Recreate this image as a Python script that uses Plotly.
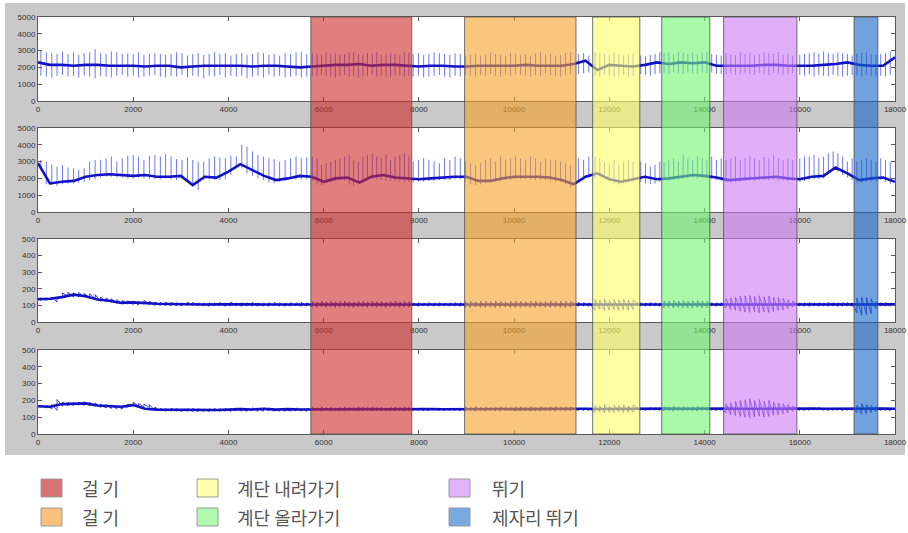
import plotly.graph_objects as go

# ---------------------------------------------------------------- data
# stride (heel-strike) sample positions shared by all four channels
beats = [
    60, 175, 290, 400, 515, 630, 745, 855, 970, 1085,
    1200, 1315, 1430, 1540, 1655, 1770, 1885, 2000, 2110, 2225,
    2340, 2455, 2570, 2680, 2795, 2910, 3025, 3140, 3250, 3365,
    3480, 3595, 3710, 3820, 3935, 4050, 4165, 4280, 4390, 4505,
    4620, 4735, 4850, 4960, 5075, 5190, 5305, 5420, 5530, 5645,
    5760, 5860, 5955, 6050, 6150, 6245, 6340, 6440, 6535, 6630,
    6730, 6825, 6920, 7020, 7115, 7210, 7310, 7405, 7500, 7600,
    7695, 7790,
    7880, 7990, 8100, 8210, 8320, 8430, 8540, 8650, 8760, 8870,
    8980, 9085, 9190, 9295, 9400, 9505, 9610, 9715, 9820, 9925,
    10030, 10135, 10240, 10345, 10450, 10555, 10660, 10765, 10870, 10975,
    11080, 11185,
    11350, 11460, 11570,
    11700, 11800, 11900, 12000, 12100, 12200, 12300, 12400, 12500,
    12660, 12760, 12860, 12960, 13060,
    13150, 13250, 13350, 13450, 13550, 13650, 13750, 13850, 13950, 14050,
    14150, 14250, 14350,
    14450, 14550, 14650, 14750, 14850, 14950, 15050, 15150, 15250, 15350,
    15450, 15550, 15650, 15750, 15850,
    16000, 16100, 16200, 16300, 16400, 16500, 16600, 16700, 16800, 16900,
    17000, 17100,
    17200, 17300, 17400, 17500, 17600,
    17700, 17800, 17900,
]

# channel 1: spike tops / bottoms per stride
ch1_hi = [
    3000, 2900, 2850, 2800, 2950, 2800, 2900, 2750, 2850, 2900,
    3100, 2850, 2800, 2950, 2900, 2800, 2850, 2800, 2900, 2750,
    2800, 2850, 2800, 2750, 2800, 2900, 2850, 2700, 2800, 2850,
    2750, 2800, 2900, 2800, 2850, 2700, 2800, 2850, 2750, 2800,
    2900, 2850, 2750, 2800, 2700, 2850, 2800, 2900, 2950, 2800,
    2850, 2800, 2750, 2900, 2800, 2850, 2750, 2800, 2900, 2950,
    2800, 2750, 2850, 2800, 2900, 2750, 2800, 2850, 2800, 2750,
    2900, 2850,
    2800, 2850, 2750, 2800, 2900, 2850, 2800, 2750, 2850, 2800,
    2700, 2750, 2800, 2700, 2750, 2900, 2800, 2750, 2700, 2850,
    2800, 2750, 2800, 2700, 2850, 2900, 2750, 2800, 2700, 2750,
    2850, 2900,
    2800, 2850, 2700,
    2900, 2850, 2800, 2750, 2900, 2800, 2700, 2750, 2800,
    2700, 2650, 2750, 2800, 2900,
    2850, 2900, 2800, 2950, 2850, 2800, 2900, 2800, 2850, 2900,
    2800, 2750, 2700,
    2850, 2800, 2750, 2900, 2800, 2850, 2750, 2800, 2900, 2850,
    2800, 2900, 2750, 2800, 2700,
    2750, 2800, 2850, 2900, 2800, 2950, 2850, 2800, 2900, 2850,
    2800, 2700,
    2800, 2850, 2900, 2800, 2750,
    2800, 2850, 2950,
]
ch1_lo = [
    1500, 1450, 1400, 1500, 1550, 1450, 1500, 1400, 1500, 1450,
    1350, 1500, 1450, 1400, 1500, 1550, 1450, 1500, 1400, 1450,
    1500, 1550, 1450, 1400, 1500, 1450, 1550, 1400, 1500, 1450,
    1350, 1500, 1450, 1550, 1400, 1500, 1450, 1500, 1350, 1450,
    1500, 1400, 1550, 1450, 1500, 1400, 1450, 1500, 1400, 1450,
    1500, 1450, 1550, 1500, 1450, 1400, 1500, 1550, 1450, 1500,
    1400, 1450, 1500, 1550, 1450, 1500, 1400, 1450, 1550, 1500,
    1450, 1500,
    1450, 1500, 1400, 1450, 1500, 1550, 1450, 1400, 1500, 1450,
    1550, 1500, 1450, 1550, 1500, 1600, 1500, 1450, 1550, 1500,
    1600, 1550, 1500, 1450, 1550, 1500, 1600, 1550, 1500, 1450,
    1550, 1600,
    1600, 1650, 1700,
    1500, 1450, 1550, 1500, 1400, 1500, 1550, 1450, 1500,
    1600, 1550, 1500, 1600, 1650,
    1650, 1600, 1700, 1650, 1600, 1700, 1650, 1600, 1700, 1650,
    1700, 1650, 1600,
    1600, 1650, 1550, 1600, 1650, 1600, 1550, 1650, 1600, 1550,
    1650, 1600, 1550, 1600, 1650,
    1550, 1500, 1600, 1450, 1550, 1500, 1450, 1550, 1500, 1450,
    1500, 1550,
    1500, 1450, 1550, 1500, 1450,
    1500, 1450, 1550,
]

# channel 2: spike tops / bottoms per stride
ch2_hi = [
    3100, 3000, 2800, 2700, 2800, 2650, 2600, 2500, 2600, 3000,
    3100, 3100, 3200, 3300, 3000, 3200, 3350, 3400, 3300, 3100,
    3350, 3400, 3300, 3450, 3300, 3150, 3100, 3250, 3100, 3000,
    3000, 3200, 3300, 3250, 3200, 3350, 3300, 4000, 3900, 3600,
    3400, 3300, 3200, 3150, 3000, 3100, 3200, 3300, 3200, 3250,
    3300, 3200, 2800, 2900, 3000, 3100, 3200, 3300, 3400, 3100,
    3000, 3300, 3400, 3500, 3300, 3200, 3400, 3100, 3300, 3400,
    3500, 3300,
    3000, 3100, 3200, 3100, 3000, 2900, 3200, 3100, 3300, 3200,
    3000, 2900, 2800, 2900, 3100, 3200, 3000, 3300, 3100, 3200,
    3300, 3200, 3100, 3300, 3200, 3000, 3200, 3100, 3100, 3000,
    2900, 2800,
    3200, 3100, 3300,
    3300, 3200, 3000, 2900, 3100, 2800, 3000, 3100, 3000,
    3000, 2900, 2700, 2800, 3000,
    3000, 3100, 3200, 3000, 3400, 3200, 3100, 3300, 3200, 3100,
    3300, 3100, 3200,
    3100, 3200, 3300, 3100, 3200, 3300, 3200, 3100, 3300, 3200,
    3400, 3200, 3100, 3200, 3100,
    3200, 3300, 3300, 3400, 3200, 3300, 3500, 3600, 3500, 3300,
    3000, 3200,
    3000, 3100, 3200, 3100, 3000,
    3200, 3100, 3000,
]
ch2_lo = [
    2700, 1650, 1600, 1550, 1650, 1700, 1700, 1750, 1800, 1900,
    1950, 2050, 2100, 2100, 2050, 2050, 2000, 2000, 2050, 2000,
    1950, 1950, 1950, 2000, 1950, 1900, 2000, 1900, 1650, 1300,
    1900, 1950, 1900, 1900, 1950, 2200, 2600, 2600, 2300, 2150,
    2000, 1900, 1750, 1700, 1800, 1850, 1950, 1950, 1950, 1950,
    1850, 1650, 1600, 1750, 1800, 1850, 1900, 1850, 1650, 1550,
    1800, 1900, 2000, 2000, 1950, 1900, 1850, 1850, 1850, 1800,
    1800, 1800,
    1750, 1800, 1800, 1850, 1850, 1900, 1900, 1900, 1950, 1950,
    1800, 1650, 1600, 1650, 1700, 1750, 1800, 1850, 1900, 1900,
    1950, 1950, 1950, 1900, 1900, 1900, 1900, 1850, 1800, 1800,
    1650, 1450,
    1800, 1900, 2050,
    2000, 2150, 2000, 1850, 1700, 1650, 1700, 1750, 1800,
    1800, 1700, 1650, 1700, 1800,
    1850, 1850, 1900, 1950, 1950, 2000, 2050, 2000, 2050, 2000,
    1950, 1900, 1850,
    1750, 1750, 1800, 1800, 1850, 1850, 1850, 1900, 1900, 1900,
    1900, 1850, 1850, 1850, 1850,
    1800, 1850, 1900, 1950, 1950, 2000, 2300, 2500, 2400, 2200,
    2050, 1900,
    1750, 1750, 1800, 1850, 1850,
    1900, 1800, 1650,
]

# channel 3: oscillation tops / bottoms per stride
ch3_hi = [
    145, 145, 150, 150, 175, 180, 175, 178, 172, 170,
    165, 150, 145, 140, 135, 130, 128, 125, 120, 130,
    125, 120, 118, 120, 118, 116, 115, 120, 118, 115,
    114, 116, 115, 118, 114, 120, 115, 116, 115, 118,
    115, 114, 116, 118, 115, 114, 116, 115, 118, 116,
    123, 120, 125, 122, 124, 121, 123, 125, 122, 120,
    124, 123, 121, 125, 122, 124, 120, 123, 125, 121,
    124, 122,
    115, 116, 114, 117, 115, 116, 114, 115, 117, 116,
    124, 126, 122, 125, 127, 123, 126, 124, 122, 125,
    127, 124, 123, 126, 125, 122, 124, 126, 123, 125,
    127, 124,
    118, 117, 116,
    135, 132, 138, 130, 136, 133, 137, 131, 134,
    116, 115, 117, 116, 115,
    128, 126, 130, 127, 129, 126, 128, 130, 127, 125,
    116, 115, 117,
    140, 145, 150, 155, 158, 160, 155, 158, 152, 156,
    150, 148, 142, 135, 125,
    115, 116, 117, 115, 116, 114, 117, 116, 115, 116,
    117, 115,
    145, 150, 148, 140, 125,
    116, 117, 115,
]
ch3_lo = [
    128, 130, 132, 120, 150, 155, 150, 152, 150, 145,
    140, 125, 122, 118, 112, 110, 108, 105, 102, 108,
    105, 100, 100, 100, 98, 98, 96, 100, 98, 97,
    96, 95, 97, 98, 95, 96, 97, 95, 96, 97,
    95, 96, 95, 97, 96, 95, 96, 97, 95, 96,
    90, 88, 92, 89, 91, 88, 90, 92, 89, 88,
    91, 90, 88, 92, 89, 91, 88, 90, 92, 89,
    91, 90,
    96, 95, 97, 96, 95, 96, 97, 95, 96, 95,
    88, 86, 90, 87, 85, 89, 86, 88, 90, 87,
    85, 88, 89, 86, 87, 90, 88, 86, 89, 87,
    85, 88,
    95, 96, 95,
    70, 75, 68, 72, 74, 69, 73, 71, 76,
    96, 95, 96, 97, 95,
    85, 88, 84, 87, 85, 86, 84, 88, 85, 87,
    96, 95, 96,
    85, 75, 70, 65, 60, 58, 62, 55, 60, 58,
    62, 68, 72, 80, 90,
    96, 95, 94, 96, 95, 97, 95, 96, 94, 95,
    96, 95,
    55, 40, 45, 50, 80,
    95, 96, 95,
]

# channel 4: oscillation tops / bottoms per stride
ch4_hi = [
    172, 170, 175, 205, 190, 188, 185, 190, 192, 188,
    185, 178, 175, 172, 168, 165, 178, 190, 182, 178,
    175, 160, 152, 150, 152, 150, 148, 150, 152, 150,
    148, 150, 152, 150, 150, 148, 155, 152, 150, 156,
    150, 152, 155, 150, 152, 150, 152, 155, 150, 152,
    158, 156, 160, 157, 159, 156, 158, 160, 157, 156,
    159, 158, 156, 160, 157, 159, 156, 158, 160, 157,
    159, 157,
    153, 152, 154, 153, 152, 154, 153, 152, 153, 154,
    160, 158, 162, 159, 161, 158, 160, 162, 159, 158,
    161, 160, 158, 162, 159, 161, 158, 160, 162, 159,
    161, 160,
    154, 153, 155,
    170, 168, 175, 166, 172, 169, 174, 167, 171,
    155, 154, 156, 155, 154,
    162, 160, 164, 161, 163, 160, 162, 164, 161, 160,
    154, 155, 153,
    180, 185, 195, 200, 205, 210, 200, 205, 195, 200,
    190, 185, 180, 175, 165,
    154, 153, 155, 156, 158, 155, 154, 153, 155, 154,
    153, 155,
    170, 180, 175, 170, 162,
    155, 154, 156,
]
ch4_lo = [
    158, 155, 150, 140, 165, 168, 170, 172, 170, 168,
    165, 158, 155, 152, 150, 148, 160, 170, 165, 160,
    158, 140, 138, 136, 138, 136, 134, 136, 135, 134,
    135, 134, 136, 135, 136, 135, 138, 136, 135, 138,
    135, 136, 138, 135, 136, 135, 136, 138, 136, 135,
    138, 140, 137, 139, 138, 140, 137, 138, 139, 140,
    137, 138, 140, 137, 139, 138, 140, 137, 138, 139,
    138, 140,
    140, 141, 140, 139, 141, 140, 139, 141, 140, 139,
    138, 140, 136, 139, 137, 140, 138, 136, 139, 140,
    137, 138, 140, 136, 139, 137, 140, 138, 136, 139,
    137, 138,
    140, 141, 140,
    128, 132, 125, 130, 127, 131, 126, 129, 130,
    142, 141, 143, 142, 141,
    138, 140, 136, 139, 137, 140, 138, 136, 139, 140,
    141, 140, 142,
    125, 115, 110, 105, 100, 95, 100, 105, 100, 105,
    110, 115, 120, 125, 135,
    141, 140, 142, 143, 144, 141, 140, 141, 142, 140,
    141, 142,
    128, 118, 122, 128, 135,
    140, 141, 139,
]

# slow baseline of each channel, one reading every 250 samples
t_base = list(range(0, 18001, 250))
ch1_base = [
    2300, 2150, 2150, 2100, 2150, 2150, 2100, 2100, 2100, 2050,
    2100, 2100, 2000, 2050, 2100, 2100, 2100, 2100, 2050, 2100,
    2100, 2050, 2000, 2050, 2100, 2150, 2150, 2200, 2100, 2150,
    2150, 2100, 2050, 2100, 2100, 2050, 2050, 2100, 2100, 2100,
    2100, 2150, 2100, 2100, 2100, 2200, 2400, 1850, 2150, 2100,
    2050, 2150, 2300, 2200, 2300, 2250, 2300, 2100, 2100, 2100,
    2100, 2150, 2150, 2100, 2100, 2100, 2150, 2200, 2300, 2150,
    2100, 2100, 2600,
]
ch2_base = [
    2900, 1700, 1800, 1850, 2100, 2200, 2250, 2200, 2150, 2200,
    2100, 2100, 2150, 1600, 2100, 2050, 2400, 2850, 2500, 2150,
    1900, 2000, 2150, 2100, 1800, 2000, 2050, 1750, 2100, 2200,
    2050, 2000, 1950, 2000, 2050, 2100, 2100, 1850, 1850, 2000,
    2100, 2100, 2100, 2050, 1900, 1650, 2100, 2300, 1950, 1800,
    1950, 2100, 1950, 2000, 2100, 2200, 2150, 2050, 1900, 1950,
    2000, 2050, 2100, 2000, 1950, 2100, 2150, 2650, 2300, 1900,
    2000, 2050, 1800,
]
ch3_base = [
    138, 140, 150, 165, 155, 135, 128, 115, 118, 112,
    110, 108, 106, 106, 105, 106, 107, 106, 106, 105,
    105, 106, 105, 106, 106, 105, 106, 105, 106, 105,
    106, 105, 106, 105, 106, 105, 105, 106, 105, 106,
    105, 106, 105, 106, 105, 106, 106, 105, 106, 105,
    106, 105, 106, 105, 106, 105, 106, 105, 106, 105,
    106, 105, 106, 105, 106, 105, 106, 105, 106, 105,
    106, 105, 106,
]
ch4_base = [
    165, 162, 178, 178, 182, 170, 168, 162, 172, 150,
    145, 144, 142, 143, 142, 143, 145, 148, 146, 150,
    145, 148, 146, 147, 148, 147, 148, 147, 148, 147,
    148, 147, 148, 148, 147, 148, 148, 149, 148, 149,
    148, 149, 148, 149, 150, 149, 150, 149, 150, 150,
    150, 151, 150, 151, 150, 151, 151, 150, 151, 150,
    151, 150, 151, 150, 151, 152, 150, 151, 150, 151,
    150, 151, 150,
]

# activity segments (sample index) and their labels
band_start = [5730, 8960, 11650, 13100, 14400, 17140]
band_end = [7850, 11300, 12640, 14110, 15940, 17640]
band_fill = ["rgba(205,40,40,0.6)", "rgba(245,160,40,0.6)", "rgba(255,255,100,0.6)",
             "rgba(110,245,110,0.6)", "rgba(205,120,245,0.6)", "rgba(20,100,200,0.6)"]
band_labels = ["걸 기", "걸 기", "계단 내려가기", "계단 올라가기", "뛰기", "제자리 뛰기"]
key_fill = ["#d77272", "#f8c27e", "#ffffb0", "#b0fab0", "#e2b2fa", "#78aae0"]

x_ticks = [0, 2000, 4000, 6000, 8000, 10000, 12000, 14000, 16000, 18000]
y_ticks_big = [0, 1000, 2000, 3000, 4000, 5000]
y_ticks_small = [0, 100, 200, 300, 400, 500]

# ---------------------------------------------------------------- layout geometry (pixels)
W, H = 908, 533
L, R, T, B = 38, 895, 17, 434
panel_rows = [(17, 101), (128, 212), (239, 322), (350, 434)]


def xp(px):
    return (px - L) / (R - L)


def yp(py):
    return (B - py) / (B - T)


def stems(pos, lo, hi):
    # separate vertical strokes, one per stride
    xs, ys = [], []
    for p, a, b in zip(pos, lo, hi):
        xs += [p, p, None]
        ys += [a, b, None]
    return xs, ys


def sawtooth(pos, lo, hi):
    # one continuous trace running lo -> hi at each stride
    xs, ys = [], []
    for p, a, b in zip(pos, lo, hi):
        xs += [p, p]
        ys += [a, b]
    return xs, ys


channels = [
    (ch1_base, ch1_lo, ch1_hi, y_ticks_big, stems, "rgba(60,75,240,0.75)"),
    (ch2_base, ch2_lo, ch2_hi, y_ticks_big, stems, "rgba(60,75,240,0.75)"),
    (ch3_base, ch3_lo, ch3_hi, y_ticks_small, sawtooth, "rgba(35,35,205,0.85)"),
    (ch4_base, ch4_lo, ch4_hi, y_ticks_small, sawtooth, "rgba(35,35,205,0.85)"),
]

fig = go.Figure()
layout_axes = {}
tick_font = dict(family="Liberation Sans", size=8, color="#333")
for i, (base, lo, hi, yt, draw, stem_col) in enumerate(channels):
    n = i + 1
    xa = "x" if n == 1 else f"x{n}"
    ya = "y" if n == 1 else f"y{n}"
    sx, sy = draw(beats, lo, hi)
    fig.add_trace(go.Scatter(x=sx, y=sy, xaxis=xa, yaxis=ya, mode="lines",
                             line=dict(color=stem_col, width=1), hoverinfo="skip"))
    fig.add_trace(go.Scatter(x=t_base, y=base, xaxis=xa, yaxis=ya, mode="lines",
                             line=dict(color="#1212c4", width=2.6), hoverinfo="skip"))
    top, bot = panel_rows[i]
    axis_style = dict(showline=True, linecolor="#5a5a5a", linewidth=1, mirror="ticks",
                      ticks="inside", ticklen=4, tickcolor="#5a5a5a", showgrid=False,
                      zeroline=False, tickfont=tick_font)
    layout_axes["xaxis" if n == 1 else f"xaxis{n}"] = dict(
        domain=[0, 1], anchor=ya, range=[0, 18000], tickvals=x_ticks,
        ticktext=[str(v) for v in x_ticks], **axis_style)
    layout_axes["yaxis" if n == 1 else f"yaxis{n}"] = dict(
        domain=[yp(bot), yp(top)], anchor=xa, range=[0, yt[-1]], tickvals=yt,
        ticktext=[str(v) for v in yt], **axis_style)

shapes = []
# white page outside the grey figure frame
for x0, y0, x1, y1 in [(0, 455, W, H), (0, 0, 5, H), (0, 0, W, 3), (905, 0, W, H)]:
    shapes.append(dict(type="rect", xref="paper", yref="paper", layer="below",
                       x0=xp(x0), x1=xp(x1), y0=yp(y1), y1=yp(y0),
                       fillcolor="white", line=dict(width=0)))
# activity bands across all four channels
for s, e, c in zip(band_start, band_end, band_fill):
    shapes.append(dict(type="rect", xref="x", yref="paper", layer="above",
                       x0=s, x1=e, y0=0, y1=1, fillcolor=c,
                       line=dict(color="rgba(80,80,80,0.8)", width=1)))

# key below the plots
key_cols = [(41, 80), (197, 235), (449, 490)]
key_rows = [(479, 497), (508, 526)]
annotations = []
for k, (lab, col) in enumerate(zip(band_labels, key_fill)):
    cx, tx = key_cols[k // 2]
    ry0, ry1 = key_rows[k % 2]
    shapes.append(dict(type="rect", xref="paper", yref="paper", layer="above",
                       x0=xp(cx), x1=xp(cx + 21), y0=yp(ry1), y1=yp(ry0),
                       fillcolor=col, line=dict(color="#9a9a9a", width=1)))
    annotations.append(dict(xref="paper", yref="paper", x=xp(tx), y=yp((ry0 + ry1) / 2),
                            text=lab, showarrow=False, xanchor="left", yanchor="middle",
                            font=dict(family="Noto Sans CJK KR", size=18, color="#555")))

fig.update_layout(
    width=W, height=H,
    margin=dict(l=L, r=W - R, t=T, b=H - B, autoexpand=False),
    paper_bgcolor="#c9c9c9", plot_bgcolor="white",
    showlegend=False, shapes=shapes, annotations=annotations,
    **layout_axes,
)

fig.write_html("out.html")
